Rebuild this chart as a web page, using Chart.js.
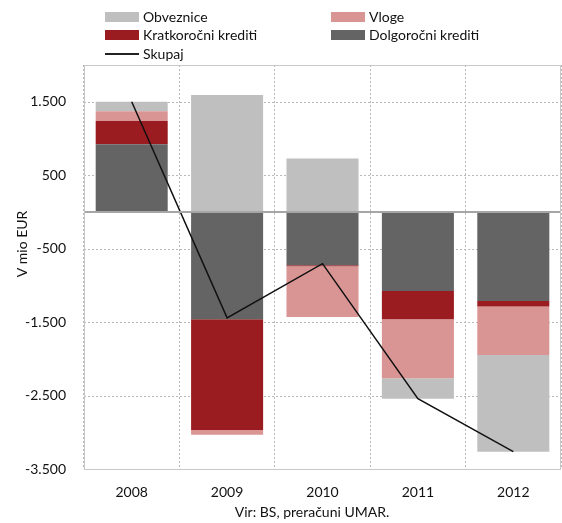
<!DOCTYPE html>
<html lang="sl">
<head>
  <meta charset="UTF-8" />
  <title>Financiranje bank</title>
  <script src="https://cdn.jsdelivr.net/npm/chart.js"></script>
  <style>
    body { margin: 0; background: #fff; }
    .wrap { position: relative; width: 562px; height: 523px; font-family: Lato, sans-serif; }
    .legend { position: absolute; left: 0; top: 0; width: 562px; height: 64px; font-size: 14px; color: #111; }
    .item { position: absolute; height: 18px; line-height: 18px; white-space: nowrap; }
    .item .sw { position: absolute; left: 0; top: 4px; width: 34px; height: 10px; }
    .item .ln { position: absolute; left: 0; top: 8px; width: 34px; height: 2px; background: #222; }
    .item span.t { position: absolute; left: 38px; top: 0; }
  </style>
</head>
<body>
<div class="wrap">
  <canvas id="chart" width="562" height="523"></canvas>
  <div class="legend">
    <div class="item" style="left:105px;top:8px"><div class="sw" style="background:#bfbfbf"></div><span class="t">Obveznice</span></div>
    <div class="item" style="left:331px;top:8px"><div class="sw" style="background:#d99594"></div><span class="t">Vloge</span></div>
    <div class="item" style="left:105px;top:26px"><div class="sw" style="background:#9b1c20"></div><span class="t">Kratkoročni krediti</span></div>
    <div class="item" style="left:331px;top:26px"><div class="sw" style="background:#646464"></div><span class="t">Dolgoročni krediti</span></div>
    <div class="item" style="left:105px;top:45px"><div class="ln"></div><span class="t">Skupaj</span></div>
  </div>
</div>

<script>
  // podatki (mio EUR), odčitano s slike
  const leta = ['2008', '2009', '2010', '2011', '2012'];
  const dolgorocni = [922, -1463, -726, -1076, -1212];
  const kratkorocni = [314, -1507, -15, -386, -77];
  const vloge = [136, -63, -690, -804, -659];
  const obveznice = [127, 1590, 727, -276, -1316];
  const skupaj = [1500, -1443, -704, -2542, -3264];

  // oznake na osi y (2000 je le zgornji rob, brez oznake)
  const yOznake = [-3500, -2500, -1500, -500, 500, 1500];
  const yMin = -3500;
  const yMax = 2000;

  function oblika(v) {
    const s = Math.abs(v).toString().replace(/\B(?=(\d{3})+(?!\d))/g, '.');
    return (v < 0 ? '-' : '') + s;
  }

  // pikčaste vodoravne črte, okvir, ničelna črta in naslova osi
  const dodatki = {
    id: 'dodatki',
    beforeDatasetsDraw(chart) {
      const { ctx, chartArea, scales } = chart;
      ctx.save();
      ctx.strokeStyle = '#b8b8b8';
      ctx.lineWidth = 1;
      ctx.setLineDash([2, 2]);
      yOznake.forEach((v) => {
        const y = Math.round(scales.y.getPixelForValue(v)) + 0.5;
        ctx.beginPath();
        ctx.moveTo(chartArea.left, y);
        ctx.lineTo(chartArea.right, y);
        ctx.stroke();
      });
      ctx.restore();
    },
    afterDatasetsDraw(chart) {
      const { ctx, chartArea, scales } = chart;
      const y0 = Math.round(scales.y.getPixelForValue(0));
      ctx.save();
      ctx.strokeStyle = '#a6a6a6';
      ctx.lineWidth = 2;
      ctx.beginPath();
      ctx.moveTo(chartArea.left, y0);
      ctx.lineTo(chartArea.right, y0);
      ctx.stroke();
      ctx.restore();
    },
    afterDraw(chart) {
      const { ctx, chartArea } = chart;
      ctx.save();
      ctx.strokeStyle = '#c8c8c8';
      ctx.lineWidth = 1;
      ctx.strokeRect(chartArea.left + 0.5, chartArea.top + 0.5,
        chartArea.right - chartArea.left - 1, chartArea.bottom - chartArea.top);
      ctx.fillStyle = '#111';
      ctx.font = '14px Lato, sans-serif';
      ctx.textAlign = 'center';
      ctx.textBaseline = 'middle';
      ctx.fillText('Vir: BS, preračuni UMAR.', 312, 512);
      ctx.translate(22, 244);
      ctx.rotate(-Math.PI / 2);
      ctx.fillText('V mio EUR', 0, 0);
      ctx.restore();
    }
  };

  const ctx = document.getElementById('chart').getContext('2d');
  new Chart(ctx, {
    data: {
      labels: leta,
      datasets: [
        { type: 'line', label: 'Skupaj', data: skupaj, borderColor: '#111', borderWidth: 1.5,
          pointRadius: 0, tension: 0, stack: 'skupaj', order: -1 },
        { type: 'bar', label: 'Dolgoročni krediti', data: dolgorocni, backgroundColor: '#646464', stack: 'banke' },
        { type: 'bar', label: 'Kratkoročni krediti', data: kratkorocni, backgroundColor: '#9b1c20', stack: 'banke' },
        { type: 'bar', label: 'Vloge', data: vloge, backgroundColor: '#d99594', stack: 'banke' },
        { type: 'bar', label: 'Obveznice', data: obveznice, backgroundColor: '#bfbfbf', stack: 'banke' }
      ]
    },
    options: {
      responsive: false,
      animation: false,
      datasets: { bar: { barPercentage: 0.755, categoryPercentage: 1 } },
      layout: { padding: { top: 65, right: 1, left: 0, bottom: 0 } },
      plugins: { legend: { display: false }, tooltip: { enabled: false } },
      scales: {
        x: {
          stacked: true,
          grid: { color: '#b8b8b8', lineWidth: 1, drawTicks: false, offset: true },
          border: { display: false, dash: [2, 2] },
          ticks: { color: '#111', font: { family: 'Lato', size: 14 }, padding: 15 },
          afterFit: (s) => { s.height = 54; }
        },
        y: {
          stacked: true,
          min: yMin,
          max: yMax,
          grid: { display: false, drawTicks: false },
          border: { display: false },
          ticks: {
            color: '#111',
            font: { family: 'Lato', size: 14 },
            padding: 18,
            callback: (v) => oblika(v)
          },
          afterBuildTicks: (s) => { s.ticks = yOznake.map((v) => ({ value: v })); },
          afterFit: (s) => { s.width = 84; }
        }
      }
    },
    plugins: [dodatki]
  });
</script>
</body>
</html>
